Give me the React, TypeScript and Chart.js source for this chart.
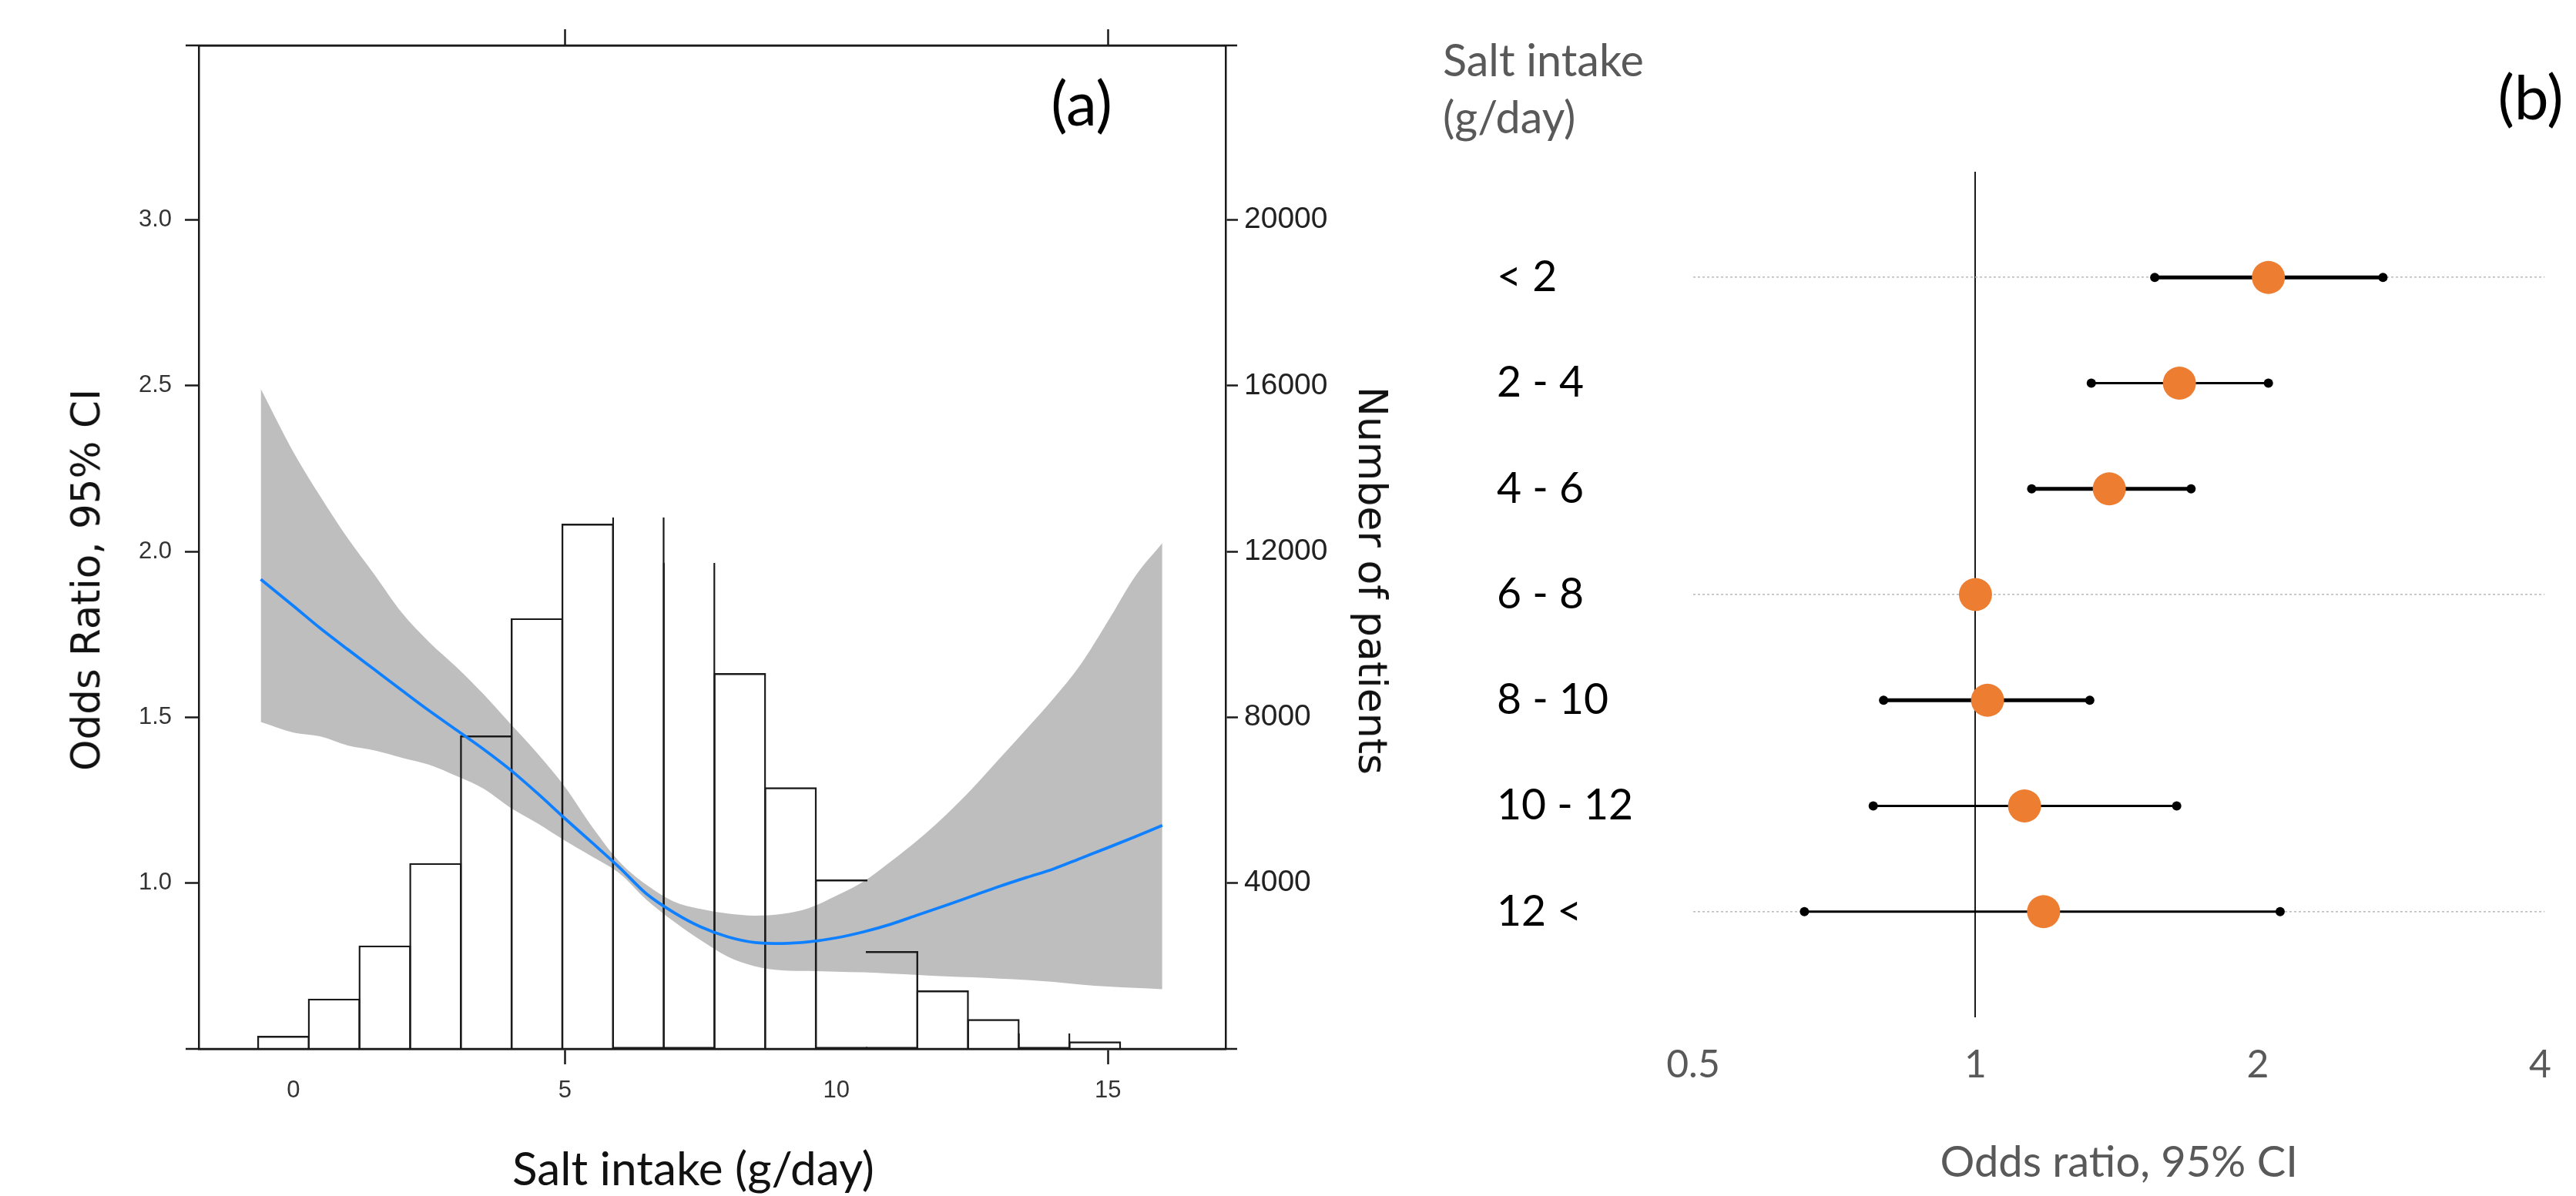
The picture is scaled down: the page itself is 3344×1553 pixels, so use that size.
import React, { useEffect, useRef, useMemo } from 'react';
import { Chart, registerables } from 'chart.js';

Chart.register(...registerables);

// ---------- Panel (a) data ----------
const curveX = [-0.6, 0, 0.5, 1, 1.5, 2, 2.5, 3, 3.5, 4, 4.5, 5, 5.5, 6, 6.5, 7, 7.5, 8, 8.5, 9, 9.5, 10, 10.5, 11, 11.5, 12, 12.5, 13, 13.5, 14, 14.5, 15, 15.5, 16];
const orFit = [1.916, 1.836, 1.768, 1.705, 1.643, 1.581, 1.52, 1.462, 1.404, 1.341, 1.27, 1.195, 1.122, 1.048, 0.968, 0.912, 0.868, 0.838, 0.821, 0.818, 0.823, 0.835, 0.853, 0.876, 0.904, 0.932, 0.961, 0.99, 1.017, 1.043, 1.075, 1.107, 1.14, 1.174];
const ciUpper = [2.49, 2.3, 2.165, 2.04, 1.929, 1.815, 1.727, 1.652, 1.57, 1.48, 1.39, 1.29, 1.17, 1.065, 0.995, 0.945, 0.922, 0.908, 0.902, 0.907, 0.925, 0.962, 1.005, 1.065, 1.13, 1.203, 1.285, 1.375, 1.465, 1.557, 1.66, 1.79, 1.925, 2.025];
const ciLower = [1.486, 1.454, 1.442, 1.415, 1.4, 1.378, 1.357, 1.323, 1.285, 1.227, 1.18, 1.128, 1.08, 1.03, 0.95, 0.885, 0.828, 0.778, 0.749, 0.737, 0.735, 0.733, 0.731, 0.727, 0.723, 0.719, 0.716, 0.712, 0.708, 0.702, 0.694, 0.688, 0.684, 0.68];
const binCenters = [-0.183, 0.75, 1.684, 2.618, 3.552, 4.486, 5.42, 6.353, 7.287, 8.221, 9.155, 10.089, 11.023, 11.956, 12.89, 13.824, 14.758];
const binCounts = [316, 1213, 2495, 4483, 7562, 10392, 12672, 12827, 11724, 9067, 6312, 4088, 2360, 1412, 719, 377, 180];
const oddsTicks = [1.0, 1.5, 2.0, 2.5, 3.0];
const countTicks = [4000, 8000, 12000, 16000, 20000];
const saltTicks = [0, 5, 10, 15];
const markedSaltTicks = [5, 15];

// ---------- Panel (b) data ----------
const groups = ['< 2', '2 - 4', '4 - 6', '6 - 8', '8 - 10', '10 - 12', '12 <'];
const orPoint = [2.053, 1.65, 1.389, 1.0, 1.03, 1.128, 1.182];
const ciLo = [1.553, 1.329, 1.148, null, 0.798, 0.778, 0.657];
const ciHi = [2.72, 2.053, 1.698, null, 1.324, 1.639, 2.113];
const orTicks = [0.5, 1, 2, 4];

const LATO = "Lato, 'Open Sans', sans-serif";
const DEJAVU = "'DejaVu Sans', sans-serif";
const LIB = "'Liberation Sans', Arial, sans-serif";

function inkSize(text: string, family: string, target: number): number {
  const ctx = document.createElement('canvas').getContext('2d');
  if (!ctx) return 40;
  ctx.font = `100px ${family}`;
  const m = ctx.measureText(text);
  const w = (m.actualBoundingBoxLeft + m.actualBoundingBoxRight) || m.width;
  return Math.round((100 * target / w) * 10) / 10;
}

const frameExt = {
  id: 'frameExt',
  afterDraw(chart: any) {
    const { ctx, chartArea } = chart;
    const { left, right, top, bottom } = chartArea;
    ctx.save();
    ctx.strokeStyle = '#1a1a1a';
    ctx.lineWidth = 2.5;
    ctx.beginPath();
    [top, bottom].forEach((y: number) => {
      ctx.moveTo(left - 17, y);
      ctx.lineTo(right + 15, y);
    });
    ctx.stroke();
    ctx.restore();
  },
};

export default function App() {
  const leftRef = useRef<HTMLCanvasElement>(null);
  const rightRef = useRef<HTMLCanvasElement>(null);

  const fs = useMemo(() => ({
    oddsTick: inkSize('3.0', LIB, 41),
    countTick: inkSize('20000', LIB, 105),
    leftY: inkSize('Odds Ratio, 95% CI', DEJAVU, 489),
    rightY: inkSize('Number of patients', DEJAVU, 497),
    leftX: inkSize('Salt intake (g/day)', LATO, 466),
    rowLab: inkSize('10 - 12', LATO, 170),
    orTick: inkSize('0.5', LATO, 65),
    orTitle: inkSize('Odds ratio, 95% CI', LATO, 457),
    head1: inkSize('Salt intake', LATO, 257),
  }), []);

  useEffect(() => {
    if (!leftRef.current || !rightRef.current) return;
    const dark = '#1a1a1a';
    const clear = 'rgba(0,0,0,0)';

    const left = new Chart(leftRef.current, {
      type: 'line',
      data: {
        datasets: [
          {
            label: 'Odds ratio',
            data: curveX.map((x, i) => ({ x, y: orFit[i] })),
            borderColor: '#0f80ff',
            borderWidth: 3.8,
            pointRadius: 0,
            cubicInterpolationMode: 'monotone',
            fill: false,
            order: 1,
            yAxisID: 'y',
          },
          {
            label: 'CI upper',
            data: curveX.map((x, i) => ({ x, y: ciUpper[i] })),
            borderColor: clear,
            borderWidth: 1,
            backgroundColor: '#bebebe',
            pointRadius: 0,
            cubicInterpolationMode: 'monotone',
            fill: '+1',
            order: 4,
            yAxisID: 'y',
          },
          {
            label: 'CI lower',
            data: curveX.map((x, i) => ({ x, y: ciLower[i] })),
            borderColor: clear,
            borderWidth: 1,
            pointRadius: 0,
            cubicInterpolationMode: 'monotone',
            fill: false,
            order: 5,
            yAxisID: 'y',
          },
          {
            type: 'bar',
            label: 'Patients',
            data: binCenters.map((x, i) => ({ x, y: binCounts[i] })),
            yAxisID: 'y2',
            backgroundColor: clear,
            borderColor: dark,
            borderWidth: 2.4,
            barPercentage: 1.036,
            categoryPercentage: 1,
            inflateAmount: 0,
            borderSkipped: (ctx: any) => {
              const i = ctx.dataIndex;
              if (i === 7 || i === 8 || i === 15) return 'top';
              if (i === 11) return 'right';
              if (i === 12) return 'left';
              return 'start';
            },
            order: 2,
          } as any,
        ],
      },
      options: {
        responsive: false,
        animation: false,
        devicePixelRatio: 1,
        events: [],
        layout: { padding: 0 },
        plugins: { legend: { display: false }, tooltip: { enabled: false } },
        scales: {
          x: {
            type: 'linear',
            position: 'bottom',
            min: -1.742,
            max: 17.166,
            offset: false,
            afterBuildTicks: (s: any) => { s.ticks = saltTicks.map((v) => ({ value: v })); },
            afterFit: (s: any) => { s.height = 191; },
            ticks: {
              font: { family: LIB, size: fs.oddsTick },
              color: '#333',
              padding: 16,
              maxRotation: 0,
              autoSkip: false,
              callback: (v: any) => String(v),
            },
            grid: {
              offset: false,
              drawOnChartArea: false,
              drawTicks: true,
              tickLength: 20,
              tickWidth: 2.5,
              tickColor: (ctx: any) => (ctx.tick && markedSaltTicks.includes(ctx.tick.value) ? dark : clear),
            },
            border: { display: true, color: dark, width: 2.5 },
          },
          x2: {
            type: 'linear',
            position: 'top',
            min: -1.742,
            max: 17.166,
            offset: false,
            afterBuildTicks: (s: any) => { s.ticks = markedSaltTicks.map((v) => ({ value: v })); },
            afterFit: (s: any) => { s.height = 59; },
            ticks: { display: false },
            grid: { offset: false, drawOnChartArea: false, drawTicks: true, tickLength: 21, tickWidth: 2.5, tickColor: dark },
            border: { display: true, color: dark, width: 2.5 },
          },
          y: {
            type: 'linear',
            position: 'left',
            min: 0.5,
            max: 3.526,
            afterBuildTicks: (s: any) => { s.ticks = oddsTicks.map((v) => ({ value: v })); },
            afterFit: (s: any) => { s.width = 258; },
            ticks: {
              font: { family: LIB, size: fs.oddsTick },
              color: '#333',
              padding: 17,
              callback: (v: any) => Number(v).toFixed(1),
            },
            grid: { drawOnChartArea: false, tickLength: 18, tickWidth: 2.5, tickColor: dark },
            border: { display: true, color: dark, width: 2.5 },
          },
          y2: {
            type: 'linear',
            position: 'right',
            min: 0,
            max: 24210,
            afterBuildTicks: (s: any) => { s.ticks = countTicks.map((v) => ({ value: v })); },
            afterFit: (s: any) => { s.width = 169; },
            ticks: {
              font: { family: LIB, size: fs.countTick },
              color: '#222',
              padding: 8,
              callback: (v: any) => String(v),
            },
            grid: { drawOnChartArea: false, tickLength: 16, tickWidth: 2.5, tickColor: dark },
            border: { display: true, color: dark, width: 2.5 },
          },
        },
      } as any,
      plugins: [frameExt],
    } as any);

    const thickRows = new Set([0, 2, 4]);
    const ciSets: any[] = [];
    groups.forEach((g, i) => {
      const lo = ciLo[i];
      const hi = ciHi[i];
      if (lo == null || hi == null) return;
      ciSets.push({
        label: g + ' CI',
        data: [{ x: lo, y: i + 1 }, { x: hi, y: i + 1 }],
        borderColor: '#000',
        borderWidth: thickRows.has(i) ? 5 : 2.8,
        pointRadius: 6,
        pointBackgroundColor: '#000',
        pointBorderWidth: 0,
        fill: false,
        order: 2,
      });
    });

    const right = new Chart(rightRef.current, {
      type: 'line',
      data: {
        datasets: [
          ...ciSets,
          {
            label: 'OR',
            data: orPoint.map((v, i) => ({ x: v, y: i + 1 })),
            showLine: false,
            pointRadius: 21.5,
            pointBackgroundColor: '#ED7D31',
            pointBorderWidth: 0,
            order: 0,
          },
        ],
      },
      options: {
        responsive: false,
        animation: false,
        devicePixelRatio: 1,
        events: [],
        layout: { padding: { left: 113, right: 21, top: 223, bottom: 0 } },
        plugins: { legend: { display: false }, tooltip: { enabled: false } },
        scales: {
          x: {
            type: 'logarithmic',
            min: 0.5,
            max: 4.045,
            afterBuildTicks: (s: any) => { s.ticks = orTicks.map((v) => ({ value: v })); },
            afterFit: (s: any) => { s.height = 232; },
            ticks: {
              font: { family: LATO, size: fs.orTick },
              color: '#595959',
              padding: 62 - 0.6 * fs.orTick,
              autoSkip: false,
              maxRotation: 0,
              callback: (v: any) => String(v),
            },
            grid: {
              drawTicks: false,
              lineWidth: 2,
              color: (ctx: any) => (ctx.tick && ctx.tick.value === 1 ? dark : clear),
            },
            border: { display: false },
            title: {
              display: true,
              text: 'Odds ratio, 95% CI',
              font: { family: LATO, size: fs.orTitle },
              color: '#595959',
              padding: { top: 0, bottom: 9 },
            },
          },
          y: {
            type: 'linear',
            min: 0,
            max: 8,
            reverse: true,
            afterBuildTicks: (s: any) => { s.ticks = groups.map((_, i) => ({ value: i + 1 })); },
            afterFit: (s: any) => { s.width = 255; },
            ticks: {
              font: { family: LATO, size: fs.rowLab },
              color: '#000',
              crossAlign: 'far',
              padding: 0,
              callback: (v: any) => groups[Number(v) - 1] ?? '',
            },
            grid: {
              drawTicks: false,
              lineWidth: 1.6,
              color: (ctx: any) => (ctx.tick && [1, 4, 7].includes(ctx.tick.value) ? '#bdbdbd' : clear),
            },
            border: { display: false, dash: [3, 3] },
          },
        },
      } as any,
    } as any);

    return () => {
      left.destroy();
      right.destroy();
    };
  }, [fs]);

  const txt = (text: string, cx: number, cy: number, size: number, family: string, color: string, rot = 0) => (
    <div
      style={{
        position: 'absolute',
        left: cx,
        top: cy,
        transform: `translate(-50%, -50%) rotate(${rot}deg)`,
        fontFamily: family,
        fontSize: size,
        lineHeight: 1,
        whiteSpace: 'nowrap',
        color,
      }}
    >
      {text}
    </div>
  );

  return (
    <div style={{ position: 'absolute', left: 0, top: 0, width: 3344, height: 1553, overflow: 'hidden', background: '#fff' }}>
      <canvas ref={leftRef} width={1760} height={1553} style={{ position: 'absolute', left: 0, top: 0, width: 1760, height: 1553 }} />
      <canvas ref={rightRef} width={1514} height={1553} style={{ position: 'absolute', left: 1830, top: 0, width: 1514, height: 1553 }} />
      {txt('Odds Ratio, 95% CI', 112, 752.5, fs.leftY, DEJAVU, '#111', -90)}
      {txt('Number of patients', 1781.5, 753.5, fs.rightY, DEJAVU, '#111', 90)}
      {txt('Salt intake (g/day)', 900, 1516, fs.leftX, LATO, '#111')}
      {txt('(a)', 1404, 132, 80, LATO, '#000')}
      {txt('(b)', 3285, 124, 80, LATO, '#000')}
      <div style={{ position: 'absolute', left: 1873, top: 99.5 - 0.887 * fs.head1, fontFamily: LATO, fontSize: fs.head1, lineHeight: 1, whiteSpace: 'nowrap', color: '#595959' }}>Salt intake</div>
      <div style={{ position: 'absolute', left: 1873, top: 173 - 0.887 * fs.head1, fontFamily: LATO, fontSize: fs.head1, lineHeight: 1, whiteSpace: 'nowrap', color: '#595959' }}>(g/day)</div>
    </div>
  );
}
